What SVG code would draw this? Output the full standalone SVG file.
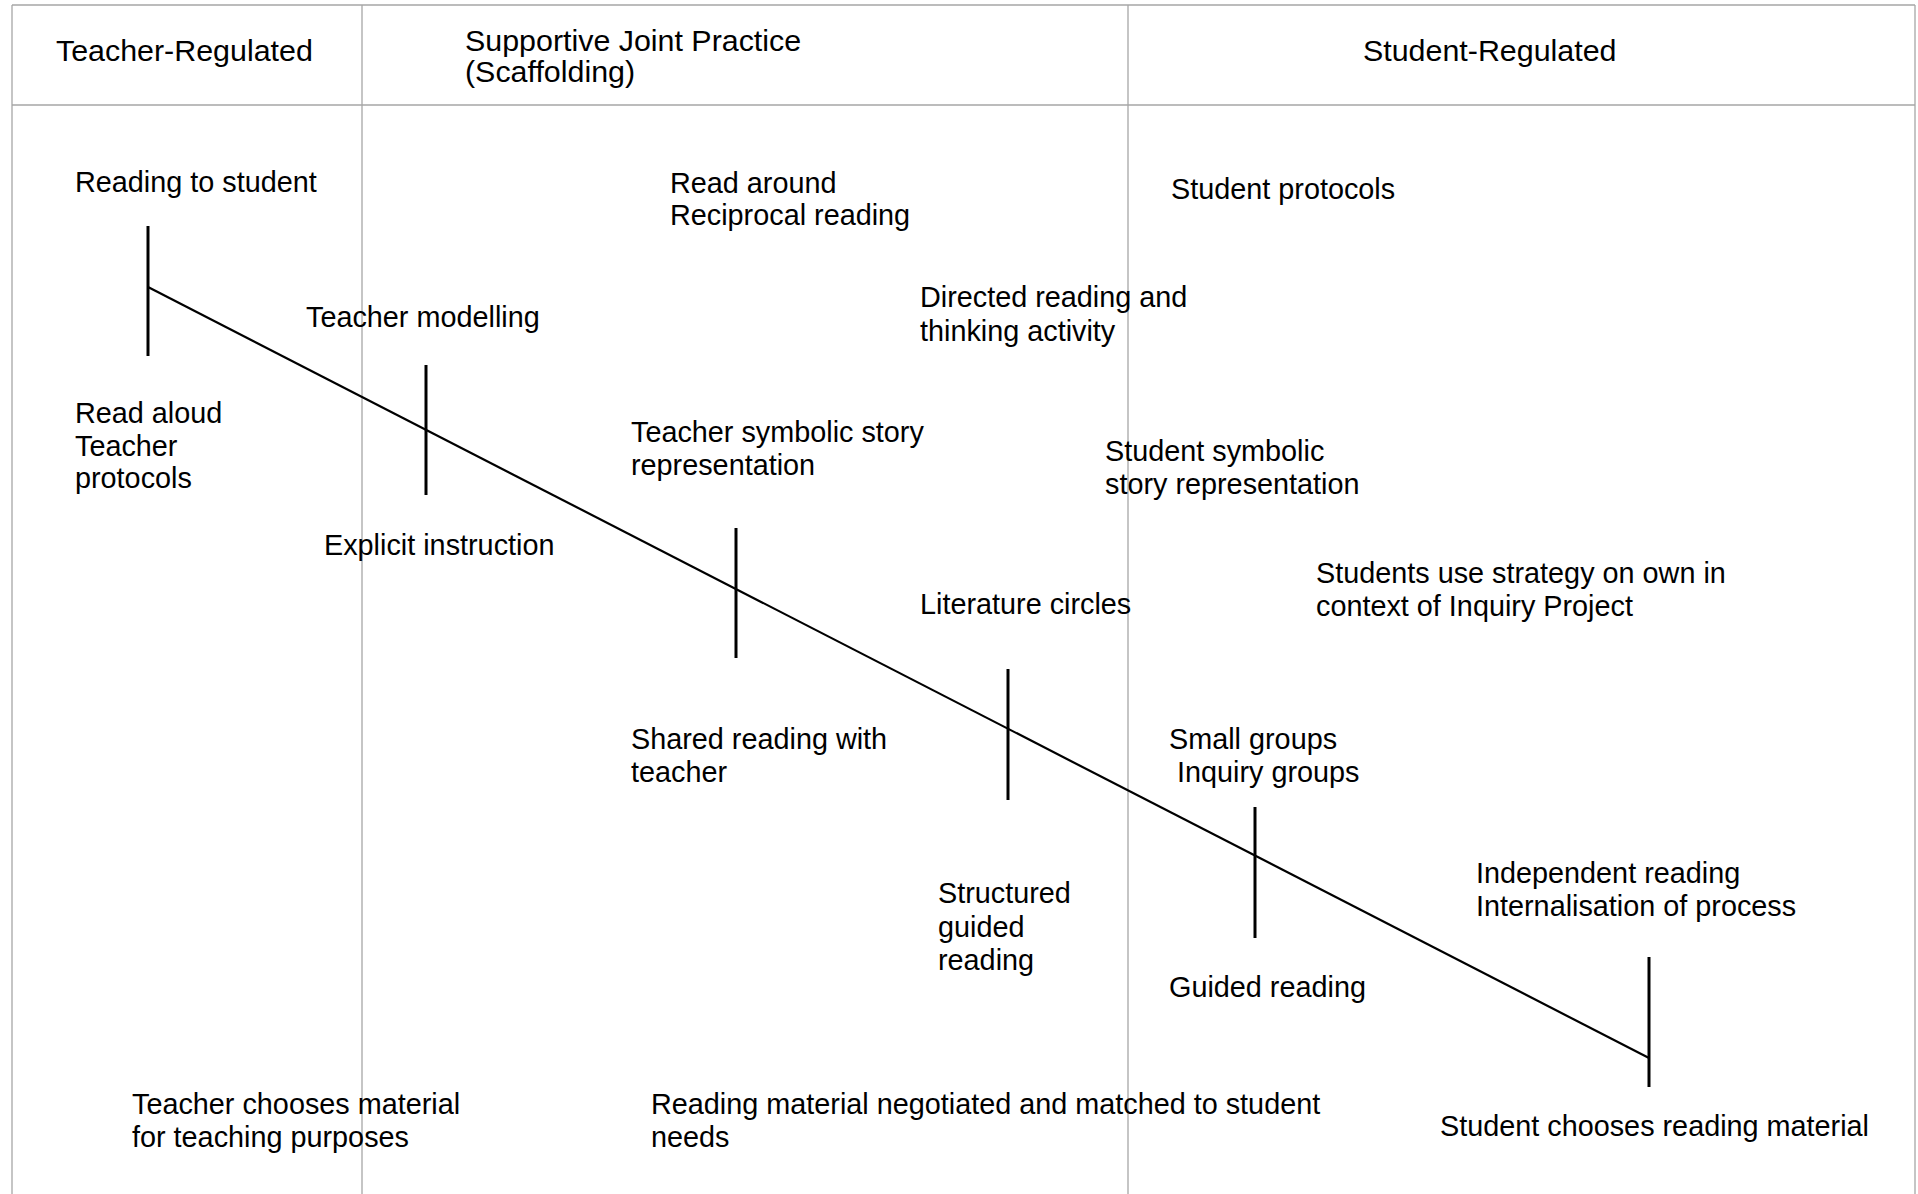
<svg xmlns="http://www.w3.org/2000/svg" width="1918" height="1194" viewBox="0 0 1918 1194">
<style>
  .frame { stroke: #a6a6a6; stroke-width: 1.3; fill: none; }
  text { font-family: "Liberation Sans", Arial, sans-serif; fill: #000; }
  .hd { font-size: 30.4px; }
  .lb { font-size: 28.8px; }
  .diag { stroke: #000; stroke-width: 2.2; fill: none; }
  .tick { stroke: #000; stroke-width: 3; fill: none; }
</style>
<rect x="0" y="0" width="1918" height="1194" fill="#fff"/>
<g id="frame">
  <line class="frame" x1="12" y1="5" x2="1915" y2="5"/>
  <line class="frame" x1="12" y1="105" x2="1915" y2="105"/>
  <line class="frame" x1="12" y1="5" x2="12" y2="1194"/>
  <line class="frame" x1="1915" y1="5" x2="1915" y2="1194"/>
  <line class="frame" x1="362" y1="5" x2="362" y2="1194"/>
  <line class="frame" x1="1128" y1="5" x2="1128" y2="1194"/>
</g>
<g id="headers">
  <g id="h-teacher"><text class="hd" x="56" y="61">Teacher-Regulated</text></g>
  <g id="h-supportive"><text class="hd" x="465" y="51">Supportive Joint Practice</text><text class="hd" x="465" y="82">(Scaffolding)</text></g>
  <g id="h-student"><text class="hd" x="1363" y="61">Student-Regulated</text></g>
</g>
<g id="connectors">
  <line class="diag" x1="148" y1="287" x2="1649" y2="1058"/>
  <line class="tick" x1="148" y1="226" x2="148" y2="356"/>
  <line class="tick" x1="426" y1="365" x2="426" y2="495"/>
  <line class="tick" x1="736" y1="528" x2="736" y2="658"/>
  <line class="tick" x1="1008" y1="669" x2="1008" y2="800"/>
  <line class="tick" x1="1255" y1="807" x2="1255" y2="938"/>
  <line class="tick" x1="1649" y1="957" x2="1649" y2="1087"/>
</g>
<g id="n-reading-to-student"><text class="lb" x="75" y="192">Reading to student</text></g>
<g id="n-read-around"><text class="lb" x="670" y="193">Read around</text><text class="lb" x="670" y="225">Reciprocal reading</text></g>
<g id="n-student-protocols"><text class="lb" x="1171" y="199">Student protocols</text></g>
<g id="n-directed-reading"><text class="lb" x="920" y="307">Directed reading and</text><text class="lb" x="920" y="341">thinking activity</text></g>
<g id="n-teacher-modelling"><text class="lb" x="306" y="327">Teacher modelling</text></g>
<g id="n-read-aloud"><text class="lb" x="75" y="423">Read aloud</text><text class="lb" x="75" y="456">Teacher</text><text class="lb" x="75" y="488">protocols</text></g>
<g id="n-teacher-symbolic"><text class="lb" x="631" y="442">Teacher symbolic story</text><text class="lb" x="631" y="475">representation</text></g>
<g id="n-student-symbolic"><text class="lb" x="1105" y="461">Student symbolic</text><text class="lb" x="1105" y="494">story representation</text></g>
<g id="n-explicit"><text class="lb" x="324" y="555">Explicit instruction</text></g>
<g id="n-students-use"><text class="lb" x="1316" y="583">Students use strategy on own in</text><text class="lb" x="1316" y="616">context of Inquiry Project</text></g>
<g id="n-literature"><text class="lb" x="920" y="614">Literature circles</text></g>
<g id="n-shared"><text class="lb" x="631" y="749">Shared reading with</text><text class="lb" x="631" y="782">teacher</text></g>
<g id="n-small-groups"><text class="lb" x="1169" y="749">Small groups</text><text class="lb" x="1169" y="782" xml:space="preserve"> Inquiry groups</text></g>
<g id="n-independent"><text class="lb" x="1476" y="883">Independent reading</text><text class="lb" x="1476" y="916">Internalisation of process</text></g>
<g id="n-structured"><text class="lb" x="938" y="903">Structured</text><text class="lb" x="938" y="937">guided</text><text class="lb" x="938" y="970">reading</text></g>
<g id="n-guided"><text class="lb" x="1169" y="997">Guided reading</text></g>
<g id="n-teacher-chooses"><text class="lb" x="132" y="1114">Teacher chooses material</text><text class="lb" x="132" y="1147">for teaching purposes</text></g>
<g id="n-negotiated"><text class="lb" x="651" y="1114">Reading material negotiated and matched to student</text><text class="lb" x="651" y="1147">needs</text></g>
<g id="n-student-chooses"><text class="lb" x="1440" y="1136">Student chooses reading material</text></g>
</svg>
